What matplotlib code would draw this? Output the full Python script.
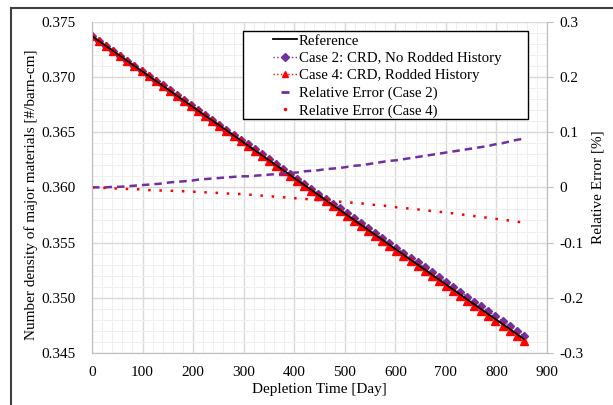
import matplotlib as mat
mat.use("Agg")
import numpy as np
from matplotlib import pyplot as plt
from matplotlib.lines import Line2D
from matplotlib.patches import Rectangle

plt.rcParams['font.family'] = ['Liberation Serif', 'DejaVu Serif']
plt.rcParams['axes.unicode_minus'] = False

# depletion time steps [day]
days = [0, 14, 28, 42, 56, 70, 84, 98, 112, 126, 140, 154, 168, 182, 196, 210,
        224, 238, 252, 266, 280, 294, 308, 322, 336, 350, 364, 378, 392, 406,
        420, 434, 448, 462, 476, 490, 504, 518, 532, 546, 560, 574, 588, 602,
        616, 630, 644, 658, 672, 686, 700, 714, 728, 742, 756, 770, 784, 798,
        812, 826, 840, 854]

# reference number density [#/barn-cm]
ref_density = [0.37370, 0.37325, 0.37280, 0.37235, 0.37190, 0.37145, 0.37100, 0.37055,
               0.37010, 0.36965, 0.36920, 0.36875, 0.36830, 0.36785, 0.36740, 0.36695,
               0.36650, 0.36605, 0.36561, 0.36516, 0.36471, 0.36426, 0.36381, 0.36336,
               0.36291, 0.36246, 0.36201, 0.36156, 0.36111, 0.36066, 0.36021, 0.35976,
               0.35931, 0.35886, 0.35841, 0.35796, 0.35751, 0.35706, 0.35661, 0.35616,
               0.35571, 0.35526, 0.35481, 0.35436, 0.35391, 0.35346, 0.35301, 0.35256,
               0.35211, 0.35166, 0.35121, 0.35076, 0.35031, 0.34986, 0.34941, 0.34896,
               0.34851, 0.34807, 0.34762, 0.34717, 0.34672, 0.34627]

# relative error [%]
err_case2 = [0.000, 0.000, 0.000, 0.001, 0.001, 0.002, 0.003, 0.004, 0.005, 0.006,
             0.007, 0.009, 0.010, 0.011, 0.012, 0.014, 0.015, 0.016, 0.017, 0.018,
             0.019, 0.020, 0.020, 0.021, 0.022, 0.023, 0.024, 0.025, 0.026, 0.027,
             0.029, 0.030, 0.031, 0.033, 0.034, 0.035, 0.037, 0.039, 0.040, 0.042,
             0.044, 0.046, 0.048, 0.049, 0.051, 0.053, 0.055, 0.057, 0.059, 0.061,
             0.063, 0.065, 0.067, 0.069, 0.071, 0.073, 0.075, 0.078, 0.080, 0.083,
             0.086, 0.088]
err_case4 = [0.000, -0.001, -0.001, -0.002, -0.002, -0.003, -0.003, -0.004, -0.005, -0.005,
             -0.006, -0.006, -0.007, -0.007, -0.008, -0.008, -0.009, -0.010, -0.010, -0.011,
             -0.012, -0.012, -0.013, -0.014, -0.015, -0.016, -0.017, -0.018, -0.019, -0.020,
             -0.021, -0.022, -0.023, -0.024, -0.025, -0.026, -0.027, -0.028, -0.029, -0.030,
             -0.032, -0.033, -0.034, -0.036, -0.037, -0.039, -0.040, -0.041, -0.043, -0.044,
             -0.046, -0.047, -0.049, -0.050, -0.052, -0.054, -0.055, -0.057, -0.059, -0.060,
             -0.062, -0.064]

ref = np.array(ref_density)
case2_density = ref * (1 + np.array(err_case2) / 100)
case4_density = ref * (1 + np.array(err_case4) / 100)

purple = '#7030A0'
red = '#FF0000'

fig = plt.figure(figsize=(6.13, 4.05), dpi=100)
ax = fig.add_axes([92/613, 1-353/405, 455/613, 331.3/405])
ax2 = ax.twinx()

ax.plot(days, case2_density, color=purple, ls=':', lw=1, marker='D', ms=4.5, zorder=3)
ax.plot(days, case4_density, color=red, ls=':', lw=1, marker='^', ms=5.5, zorder=4)
ax.plot(days, ref, color='black', lw=1.3, zorder=5)

ax2.plot(days, err_case2, color=purple, ls=(0, (3, 2)), lw=1.8)
ax2.plot(days, err_case4, color=red, ls=(0, (1, 3.5)), lw=1.8)

ax.set_xlim(0, 900)
ax.set_ylim(0.345, 0.375)
ax2.set_ylim(-0.3, 0.3)
ax.set_xticks(np.arange(0, 901, 100))
ax.set_xticks(np.arange(0, 901, 20), minor=True)
ax.set_yticks(np.arange(0.345, 0.3751, 0.005))
ax.set_yticks(np.arange(0.345, 0.3751, 0.001), minor=True)
ax.set_yticklabels(['%.3f' % v for v in np.arange(0.345, 0.3751, 0.005)])
r_ticks = [-0.3, -0.2, -0.1, 0, 0.1, 0.2, 0.3]
ax2.set_yticks(r_ticks)
ax2.set_yticklabels(['-0.3', '-0.2', '-0.1', '0', '0.1', '0.2', '0.3'])

ax.grid(which='major', color='#d9d9d9', lw=1)
ax.grid(which='minor', color='#efefef', lw=0.8)
ax.set_axisbelow(True)

ax.tick_params(axis='both', which='both', length=0, labelsize=11)
ax.tick_params(axis='y', pad=12)
ax.tick_params(axis='x', pad=9)
ax2.tick_params(axis='y', which='major', length=4, color='#bfbfbf', pad=5, labelsize=11)
ax2.tick_params(axis='y', which='minor', length=0)

for a in (ax, ax2):
    for s in a.spines.values():
        s.set_color('#bfbfbf')
    a.spines['top'].set_visible(False)

ax.set_xlabel('Depletion Time [Day]', fontsize=11)
ax.set_ylabel('Number density of major materials [#/barn-cm]', fontsize=11)
ax2.set_ylabel('Relative Error [%]', fontsize=11)
ax.xaxis.set_label_coords(0.5, -0.09)
ax.yaxis.set_label_coords(-0.119, 0.477)
ax2.yaxis.set_label_coords(1.097, 0.5)

# legend box
ax2.add_patch(Rectangle((0.332, 0.706), 0.626, 0.266, transform=ax2.transAxes,
                        facecolor='white', edgecolor='black', lw=1, zorder=10))
handles = [
    Line2D([], [], color='black', lw=1.3),
    Line2D([], [], color=purple, ls=':', lw=1, marker='D', ms=4),
    Line2D([], [], color=red, ls=':', lw=1, marker='^', ms=5),
    Line2D([], [], color=purple, ls='none', marker='_', ms=6, mew=2),
    Line2D([], [], color=red, ls='none', marker='.', ms=3),
]
labels = ['Reference', 'Case 2: CRD, No Rodded History', 'Case 4: CRD, Rodded History',
          'Relative Error (Case 2)', 'Relative Error (Case 4)']
leg = ax2.legend(handles, labels, loc='upper left', bbox_to_anchor=(0.381, 0.985),
                 frameon=False, borderpad=0, fontsize=10.7, handlelength=1.65,
                 handletextpad=0.1, labelspacing=0.27)
leg.set_zorder(11)

# outer chart border (top and left)
fig.add_artist(Line2D([11/613, 11/613], [0, 1-8/405], color='#404040', lw=1.5))
fig.add_artist(Line2D([11/613, 1], [1-8/405, 1-8/405], color='#404040', lw=1.5))

plt.savefig('out.png', dpi=100)
